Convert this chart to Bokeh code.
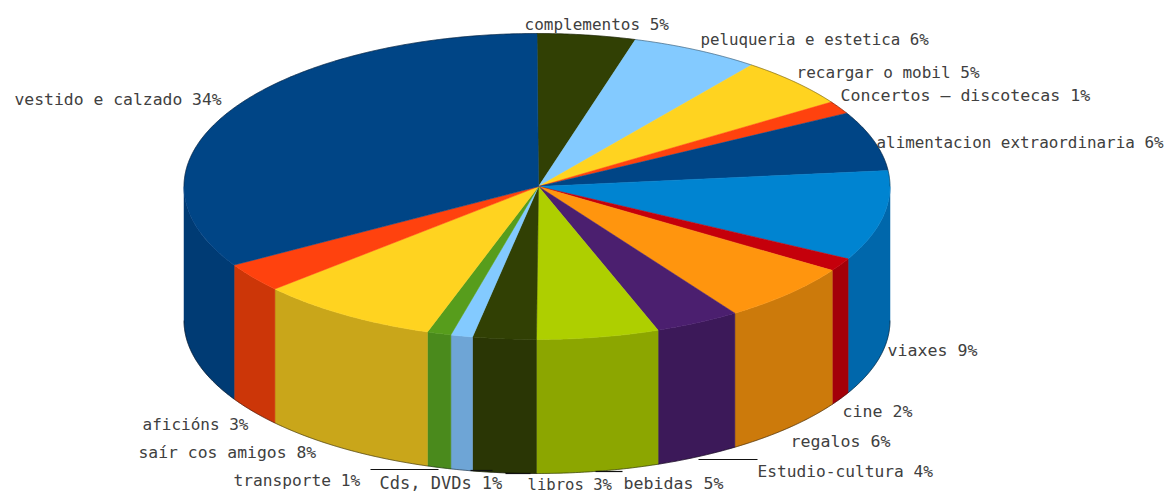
import math
from bokeh.plotting import figure
from bokeh.models import Range1d, ColumnDataSource
from bokeh.core.properties import value
from bokeh.embed import file_html
from bokeh.resources import INLINE

# data: clockwise from twelve o'clock
categories = ["complementos", "peluqueria e estetica", "recargar o mobil", "Concertos – discotecas",
              "alimentacion extraordinaria", "viaxes", "cine", "regalos", "Estudio-cultura",
              "bebidas", "libros", "Cds, DVDs", "transporte", "saír cos amigos", "aficións",
              "vestido e calzado"]
shares = [4.5, 5.9, 5.3, 1.35, 6.3, 9.5, 1.4, 6.3, 3.9, 5.6, 2.9, 1.0, 1.1, 8.3, 3.1, 33.6]
label_texts = ["complementos 5%", "peluqueria e estetica 6%", "recargar o mobil 5%",
               "Concertos – discotecas 1%", "alimentacion extraordinaria 6%", "viaxes 9%",
               "cine 2%", "regalos 6%", "Estudio-cultura 4%", "bebidas 5%", "libros 3%",
               "Cds, DVDs 1%", "transporte 1%", "saír cos amigos  8%", "aficións 3%",
               "vestido e calzado 34%"]

# style
top_colors = ["#314004", "#83caff", "#ffd320", "#ff420e", "#004586", "#0084d1", "#c5000b", "#ff950e",
              "#4b1f6f", "#aecf00", "#314004", "#83caff", "#579d1c", "#ffd320", "#ff420e", "#004586"]
side_colors = ["#27330a", "#6ea5d6", "#c9a61a", "#cc3608", "#003b74", "#0067ab", "#a30009", "#cc7a0b",
               "#3c1959", "#8ca600", "#2a3605", "#6ea5d6", "#4a8a1c", "#c9a61a", "#cc3608", "#003b74"]

# layout (pixel coordinates of the picture)
label_x = [524, 700, 796, 840, 876, 887, 842, 790, 757, 623, 527, 379, 233, 138, 142, 14]
label_y = [24, 39, 72, 95, 142, 350, 411, 441, 471, 483, 484, 482, 480, 452, 424, 99]
label_size = ["16px", "15.8px", "16px", "16.6px", "15.9px", "16.6px", "16.6px", "16.6px", "16.2px", "16.6px",
              "15.6px", "17px", "16.2px", "16.4px", "16px", "16.4px"]
leader_x0 = [370, 470, 595, 698, 505]
leader_x1 = [438, 492, 622, 757, 530]
leader_y = [469, 470, 471, 459, 473]
CX, CY, RX, RY, DEPTH = 536.5, 186, 353, 153, 134
APEX_X = 538

p = figure(width=1168, height=492, output_backend="svg", toolbar_location=None,
           x_range=Range1d(0, 1168), y_range=Range1d(492, 0),
           min_border=0, outline_line_color=None, background_fill_color="white")
p.axis.visible = False
p.grid.visible = False


def rim(a_deg, dy=0.0):
    a = math.radians(a_deg)
    return CX + RX * math.sin(a), CY - RY * math.cos(a) + dy


def arc(a0, a1, dy=0.0):
    n = max(2, int(abs(a1 - a0) * 2) + 2)
    pts = [rim(a0 + (a1 - a0) * i / (n - 1), dy) for i in range(n)]
    return [q[0] for q in pts], [q[1] for q in pts]


starts = []
c = 0.0
total = sum(shares)
for s in shares:
    starts.append(c)
    c += s
angles = [(st / total * 360, (st + s) / total * 360) for st, s in zip(starts, shares)]

side_xs, side_ys, side_c = [], [], []
for (a0, a1), col in zip(angles, side_colors):
    lo, hi = max(a0, 90), min(a1, 270)
    if hi <= lo:
        continue
    xa, ya = arc(lo, hi)
    xb, yb = arc(hi, lo, DEPTH)
    side_xs.append(xa + xb)
    side_ys.append(ya + yb)
    side_c.append(col)
p.patches(side_xs, side_ys, fill_color=side_c, line_color=side_c, line_width=0.5)

top_xs, top_ys = [], []
for a0, a1 in angles:
    xa, ya = arc(a0, a1)
    top_xs.append([APEX_X] + xa)
    top_ys.append([CY] + ya)
p.patches(top_xs, top_ys, fill_color=top_colors, line_color=top_colors, line_width=0.5)

# dark fringe along the outer edges
bx, by = arc(90, 270, DEPTH)
p.line(bx, by, line_color="#000000", line_width=1, line_alpha=0.45)
tx, ty = arc(-90, 90)
p.line(tx, ty, line_color="#000000", line_width=1, line_alpha=0.35)

p.segment(leader_x0, leader_y, leader_x1, leader_y, line_color="#111111", line_width=1.2)

src = ColumnDataSource(dict(x=label_x, y=label_y, t=label_texts, s=label_size))
p.text("x", "y", text="t", source=src, text_font=value("DejaVu Sans Mono"), text_font_size="s",
       text_color="#404040", text_align="left", text_baseline="middle")

open("out.html", "w").write(file_html(p, INLINE))
